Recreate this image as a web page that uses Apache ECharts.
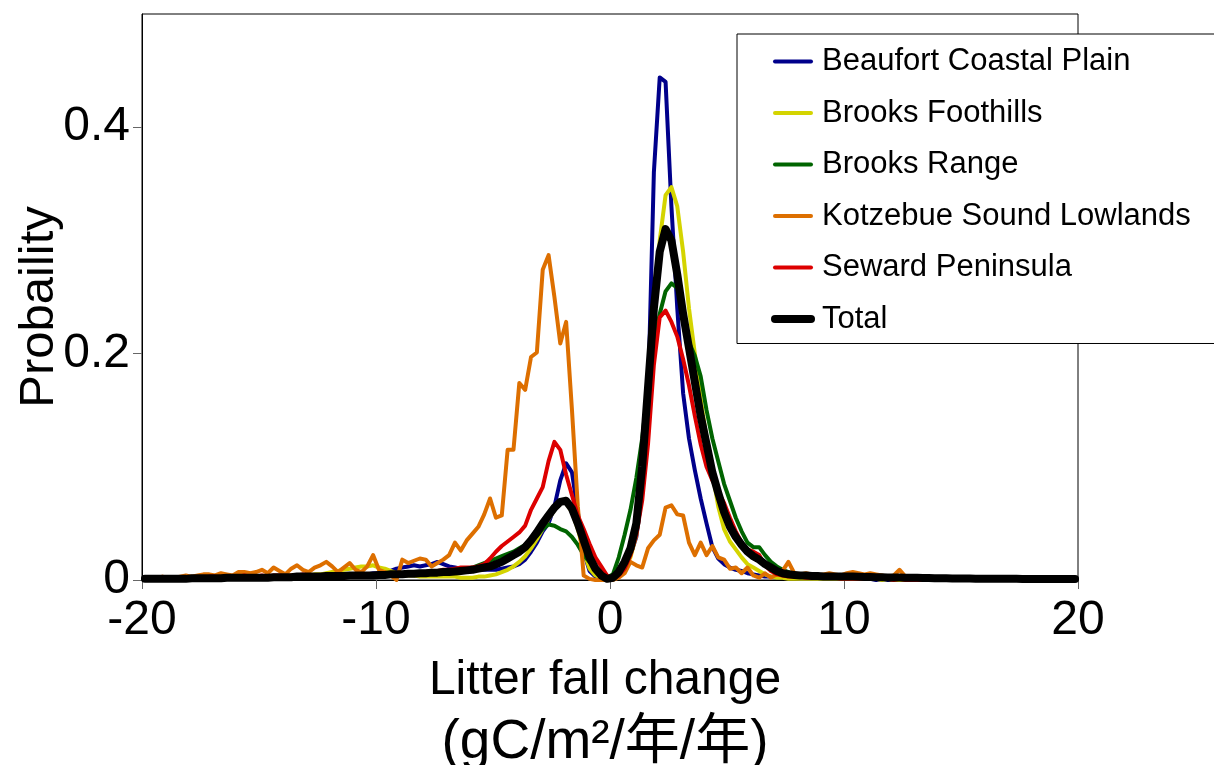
<!DOCTYPE html>
<html>
<head>
<meta charset="utf-8">
<script src="https://cdn.jsdelivr.net/npm/echarts@6/dist/echarts.min.js"></script>
<style>
  html, body { margin: 0; padding: 0; background: #fff; }
  #chart { width: 1214px; height: 765px; }
</style>
</head>
<body>
<div id="chart"></div>
<script>
// Histogram bins: 0.25 wide, centred from -19.875 to 19.875 (160 bins)
const BIN_WIDTH = 0.25;
const FIRST_BIN_CENTER = -19.875;
const BIN_COUNT = 160;
const binCenters = Array.from({ length: BIN_COUNT }, (_, i) => FIRST_BIN_CENTER + i * BIN_WIDTH);

const xTicks = [-20, -10, 0, 10, 20];
const yTicks = [0, 0.2, 0.4];

const seriesNames = [
  'Beaufort Coastal Plain',
  'Brooks Foothills',
  'Brooks Range',
  'Kotzebue Sound Lowlands',
  'Seward Peninsula',
  'Total'
];

// Probability per bin, 20 bins (5 units) per row
const beaufortCoastalPlain = [
  0,0,0,0,0,0,0.001,0,0.001,0.001,0.001,0.001,0.001,0.001,0.001,0.002,0.001,0.002,0.002,0.002,
  0.002,0.002,0.002,0.003,0.002,0.003,0.003,0.003,0.003,0.004,0.003,0.004,0.004,0.004,0.005,0.004,0.005,0.005,0.005,0.006,
  0.006,0.007,0.008,0.01,0.011,0.012,0.013,0.012,0.013,0.014,0.016,0.014,0.012,0.011,0.01,0.01,0.01,0.009,0.009,0.009,
  0.009,0.01,0.011,0.012,0.014,0.018,0.025,0.033,0.043,0.05,0.065,0.088,0.103,0.095,0.06,0.025,0.008,0.003,0.001,0,
  0.002,0.006,0.013,0.022,0.038,0.078,0.16,0.36,0.444,0.44,0.33,0.24,0.165,0.125,0.097,0.072,0.05,0.029,0.019,0.014,
  0.011,0.009,0.008,0.006,0.005,0.004,0.003,0.003,0.002,0.002,0.002,0.002,0.001,0.001,0.001,0.001,0.001,0.001,0.001,0.001,
  0.001,0.001,0.001,0.001,0.001,0,0.001,0,0,0.001,0,0,0,0,0,0,0,0,0,0,
  0,0,0,0,0,0,0,0,0,0,0,0,0,0,0,0,0,0,0,0
];

const brooksFoothills = [
  0,0,0,0,0.001,0,0.001,0.001,0.001,0.001,0.001,0.001,0.002,0.001,0.002,0.002,0.002,0.002,0.003,0.002,
  0.003,0.003,0.003,0.003,0.004,0.004,0.004,0.004,0.004,0.005,0.005,0.006,0.007,0.008,0.009,0.01,0.011,0.012,0.012,0.013,
  0.011,0.01,0.008,0.006,0.005,0.004,0.004,0.003,0.003,0.003,0.003,0.003,0.003,0.003,0.002,0.002,0.002,0.003,0.003,0.004,
  0.005,0.007,0.009,0.012,0.016,0.021,0.028,0.036,0.045,0.054,0.062,0.068,0.068,0.06,0.045,0.025,0.01,0.004,0.002,0,
  0.001,0.004,0.01,0.02,0.04,0.08,0.15,0.23,0.3,0.34,0.347,0.33,0.29,0.24,0.2,0.16,0.125,0.095,0.065,0.045,
  0.034,0.027,0.02,0.014,0.011,0.008,0.005,0.003,0.002,0.002,0.001,0.001,0.001,0.001,0.001,0.001,0.001,0.001,0.001,0.001,
  0.001,0.001,0.001,0.001,0.001,0.001,0,0.001,0,0,0,0,0,0,0,0,0,0,0,0,
  0,0,0,0,0,0,0,0,0,0,0,0,0,0,0,0,0,0,0,0
];

const brooksRange = [
  0,0,0,0,0,0,0,0.001,0,0.001,0,0.001,0.001,0.001,0.001,0.001,0.001,0.001,0.002,0.001,
  0.002,0.002,0.002,0.002,0.002,0.003,0.002,0.003,0.003,0.003,0.003,0.003,0.003,0.004,0.003,0.004,0.004,0.004,0.004,0.004,
  0.004,0.004,0.005,0.005,0.005,0.005,0.006,0.006,0.006,0.007,0.007,0.007,0.008,0.008,0.009,0.01,0.011,0.013,0.015,0.017,
  0.019,0.021,0.023,0.025,0.028,0.031,0.035,0.039,0.045,0.049,0.048,0.045,0.043,0.038,0.031,0.022,0.016,0.012,0.007,0.002,
  0.005,0.02,0.04,0.062,0.09,0.125,0.17,0.21,0.235,0.255,0.262,0.258,0.235,0.21,0.198,0.18,0.15,0.125,0.105,0.085,
  0.07,0.055,0.043,0.033,0.029,0.029,0.022,0.016,0.012,0.009,0.007,0.005,0.004,0.004,0.003,0.003,0.003,0.002,0.002,0.002,
  0.002,0.002,0.002,0.001,0.002,0.001,0.001,0.001,0.001,0.001,0.001,0.001,0.001,0.001,0.001,0.001,0.001,0.001,0.001,0.001,
  0.001,0.001,0.001,0,0.001,0,0,0,0,0,0,0,0,0,0,0,0,0,0,0
];

const kotzebueSoundLowlands = [
  0.001,0.002,0.001,0.003,0.002,0.002,0.003,0.004,0.003,0.004,0.005,0.005,0.004,0.006,0.005,0.004,0.007,0.007,0.006,0.007,
  0.009,0.006,0.011,0.008,0.005,0.01,0.013,0.009,0.007,0.011,0.013,0.016,0.012,0.007,0.011,0.015,0.009,0.007,0.012,0.022,
  0.009,0.007,0.004,0,0.018,0.015,0.017,0.019,0.018,0.012,0.015,0.018,0.022,0.033,0.026,0.035,0.041,0.047,0.058,0.072,
  0.055,0.057,0.115,0.115,0.174,0.168,0.197,0.201,0.274,0.287,0.25,0.209,0.228,0.15,0.065,0.004,0.001,0,0,0,
  0,0.002,0.006,0.016,0.013,0.011,0.028,0.035,0.04,0.064,0.066,0.058,0.057,0.033,0.022,0.033,0.022,0.03,0.02,0.018,
  0.01,0.011,0.006,0.011,0.004,0.002,0.006,0.002,0.005,0.008,0.016,0.006,0.005,0.006,0.005,0.004,0.005,0.006,0.005,0.004,
  0.006,0.007,0.006,0.005,0.006,0.005,0.004,0.003,0.004,0.009,0.003,0.002,0.002,0.001,0.002,0.001,0.001,0.001,0.001,0.001,
  0.001,0,0.001,0,0,0.001,0,0,0,0,0,0,0,0,0,0,0,0,0,0
];

const sewardPeninsula = [
  0,0,0,0,0.001,0.001,0.001,0.001,0.002,0.002,0.002,0.003,0.003,0.002,0.003,0.003,0.003,0.004,0.003,0.003,
  0.004,0.003,0.004,0.004,0.003,0.004,0.004,0.005,0.004,0.003,0.004,0.005,0.004,0.003,0.002,0.003,0.004,0.004,0.005,0.004,
  0.004,0.005,0.005,0.004,0.005,0.006,0.006,0.007,0.007,0.008,0.008,0.009,0.009,0.01,0.011,0.011,0.011,0.012,0.014,0.019,
  0.025,0.03,0.034,0.038,0.042,0.048,0.062,0.072,0.082,0.105,0.122,0.115,0.093,0.075,0.057,0.045,0.032,0.02,0.012,0.004,
  0.001,0.004,0.01,0.022,0.04,0.07,0.12,0.19,0.232,0.238,0.228,0.215,0.195,0.172,0.145,0.12,0.1,0.088,0.078,0.068,
  0.055,0.043,0.033,0.027,0.025,0.022,0.013,0.008,0.005,0.004,0.003,0.003,0.003,0.002,0.002,0.002,0.002,0.002,0.002,0.001,
  0.001,0.001,0.001,0.001,0.001,0.001,0.001,0.001,0,0.001,0,0,0,0,0,0,0,0,0,0,
  0,0,0,0,0,0,0,0,0,0,0,0,0,0,0,0,0,0,0,0
];

const total = [
  0.001,0.001,0.001,0.001,0.001,0.001,0.001,0.001,0.0015,0.0015,0.0015,0.0015,0.0015,0.0015,0.002,0.002,0.002,0.002,0.002,0.002,
  0.002,0.002,0.0025,0.0025,0.0025,0.0025,0.003,0.003,0.003,0.003,0.003,0.0035,0.0035,0.0035,0.0035,0.004,0.004,0.004,0.004,0.004,
  0.0045,0.0045,0.005,0.005,0.005,0.0055,0.0055,0.006,0.006,0.0065,0.0065,0.007,0.007,0.0075,0.008,0.0085,0.009,0.01,0.011,0.012,
  0.014,0.016,0.019,0.022,0.025,0.029,0.035,0.042,0.05,0.057,0.064,0.069,0.07,0.063,0.05,0.035,0.02,0.01,0.004,0.001,
  0.002,0.007,0.016,0.028,0.05,0.1,0.17,0.24,0.29,0.31,0.3,0.27,0.235,0.205,0.175,0.145,0.12,0.095,0.077,0.06,
  0.047,0.038,0.031,0.025,0.021,0.018,0.014,0.011,0.008,0.006,0.005,0.0045,0.004,0.004,0.0035,0.0035,0.003,0.003,0.003,0.003,
  0.003,0.003,0.0028,0.0027,0.0026,0.0025,0.0024,0.0023,0.0022,0.0021,0.002,0.002,0.0019,0.0018,0.0017,0.0016,0.0015,0.0015,0.0014,0.0014,
  0.0013,0.0013,0.0012,0.0012,0.0011,0.0011,0.001,0.001,0.001,0.001,0.0009,0.0009,0.0009,0.0009,0.0008,0.0008,0.0008,0.0008,0.0008,0.0008
];

const seriesValues = [beaufortCoastalPlain, brooksFoothills, brooksRange, kotzebueSoundLowlands, sewardPeninsula, total];
const seriesColors = ['#00008b', '#d4d400', '#006400', '#dd6f00', '#dd0000', '#000000'];
const seriesWidths = [4, 4, 4, 4, 4, 8];

const FONT = '"Liberation Sans", Arial, "Noto Sans CJK JP", sans-serif';

const chart = echarts.init(document.getElementById('chart'), null, { renderer: 'canvas' });

chart.setOption({
  animation: false,
  backgroundColor: '#ffffff',
  textStyle: { fontFamily: FONT, color: '#000' },
  grid: {
    left: 142, right: 136, top: 14, bottom: 185,
    containLabel: false,
    outerBoundsMode: 'none',
    show: true, borderColor: '#000', borderWidth: 1, backgroundColor: 'transparent'
  },
  legend: {
    orient: 'vertical',
    left: 737, top: 34,
    padding: [12, 40, 9, 34],
    backgroundColor: '#ffffff',
    borderColor: '#000', borderWidth: 1,
    itemWidth: 36, itemHeight: 14, itemGap: 20.5,
    itemStyle: { opacity: 0, borderWidth: 0 },
    lineStyle: { width: 'inherit', opacity: 1 },
    textStyle: { fontSize: 31, lineHeight: 30, color: '#000', fontFamily: FONT, padding: [0, 0, 0, 6] },
    data: seriesNames
  },
  xAxis: {
    type: 'value',
    min: -20, max: 20, interval: 10,
    name: '{t|Litter fall change}\n{u|(gC/m²/年/年)}',
    nameLocation: 'middle',
    nameGap: 70,
    nameMoveOverlap: false,
    nameTextStyle: {
      color: '#000', fontFamily: FONT,
      padding: [0, 10, 0, 0],
      rich: {
        t: { fontSize: 48, lineHeight: 62, fontFamily: FONT, color: '#000' },
        u: { fontSize: 55, lineHeight: 62, fontFamily: FONT, color: '#000' }
      }
    },
    axisLine: { show: true, onZero: false, lineStyle: { color: '#000', width: 1 } },
    axisTick: { show: true, length: 9, lineStyle: { color: '#666' }, customValues: xTicks },
    axisLabel: { fontSize: 48, color: '#000', margin: 17, fontFamily: FONT, customValues: xTicks },
    splitLine: { show: false }
  },
  yAxis: {
    type: 'value',
    min: 0, max: 0.5, interval: 0.1,
    name: 'Probaility',
    nameLocation: 'middle',
    nameRotate: 90,
    nameGap: 78,
    nameMoveOverlap: false,
    nameTextStyle: { fontSize: 49, color: '#000', fontFamily: FONT, padding: [0, 20, 0, 0] },
    axisLine: { show: true, onZero: false, lineStyle: { color: '#000', width: 1 } },
    axisTick: { show: true, length: 9, lineStyle: { color: '#666' }, customValues: yTicks },
    axisLabel: {
      fontSize: 48, color: '#000', margin: 12, fontFamily: FONT, customValues: yTicks,
      formatter: v => (v === 0 ? '0' : String(Math.round(v * 10) / 10))
    },
    splitLine: { show: false }
  },
  series: seriesNames.map((name, i) => ({
    name,
    type: 'line',
    symbol: 'none',
    showSymbol: false,
    smooth: false,
    clip: true,
    color: seriesColors[i],
    lineStyle: { color: seriesColors[i], width: seriesWidths[i], join: 'round', cap: 'round' },
    z: 2 + i,
    data: binCenters.map((x, k) => [x, seriesValues[i][k]])
  }))
});
</script>
</body>
</html>
